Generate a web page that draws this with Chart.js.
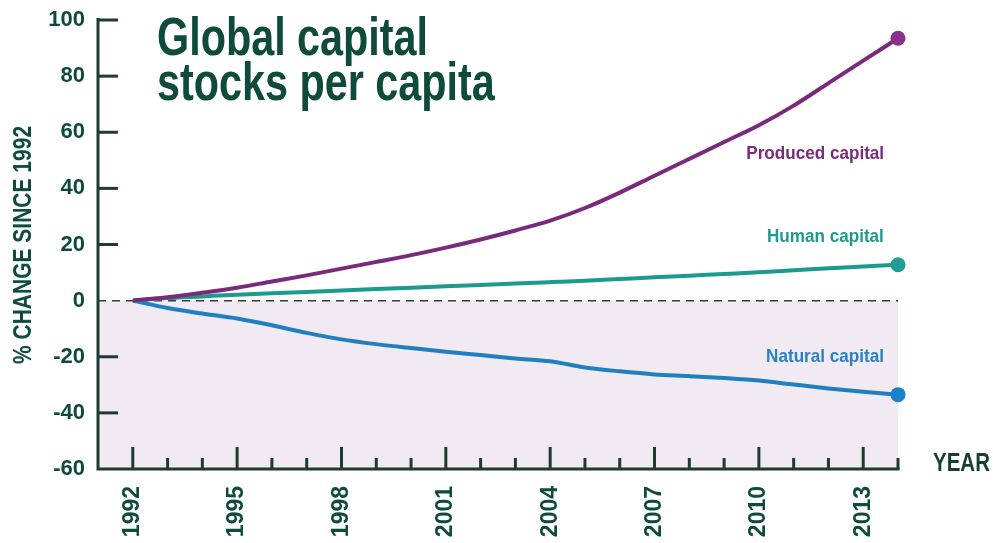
<!DOCTYPE html>
<html>
<head>
<meta charset="utf-8">
<script src="https://cdn.jsdelivr.net/npm/chart.js@4.4.1/dist/chart.umd.min.js"></script>
<style>
  html,body{margin:0;padding:0;background:#fff;}
  #wrap{position:relative;width:993px;height:543px;overflow:hidden;}
  canvas{position:absolute;left:0;top:0;}
  .lbl{position:absolute;font-family:"Liberation Sans",Arial,sans-serif;font-weight:bold;white-space:nowrap;}
  #title{left:157px;top:14px;font-size:53px;line-height:45px;color:#0e4b3d;transform:scaleX(0.78);transform-origin:0 0;}
  .ann{font-size:19px;line-height:20px;right:109px;transform:scaleX(0.9);transform-origin:100% 50%;}
  #year{left:933px;top:449px;font-size:25px;line-height:26px;color:#163f34;transform:scaleX(0.82);transform-origin:0 50%;}
  #ytitle{left:22px;top:245px;font-size:25px;line-height:26px;color:#0e4b3d;transform:translate(-50%,-50%) rotate(-90deg) scaleX(0.84);}
</style>
</head>
<body>
<div id="wrap">
  <canvas id="chart" width="993" height="543"></canvas>
  <div id="title" class="lbl">Global capital<br>stocks per capita</div>
  <div class="lbl ann" style="top:143px;color:#7b2a7b;">Produced capital</div>
  <div class="lbl ann" style="top:226px;color:#1f9a90;">Human capital</div>
  <div class="lbl ann" style="top:346px;color:#2a80c0;">Natural capital</div>
  <div id="year" class="lbl">YEAR</div>
  <div id="ytitle" class="lbl">% CHANGE SINCE 1992</div>
</div>
<script>
const years = [1992,1993,1994,1995,1996,1997,1998,1999,2000,2001,2002,2003,2004,2005,2006,2007,2008,2009,2010,2011,2012,2013,2014];
const produced = [0,1.2,2.8,4.6,6.8,9.0,11.4,13.8,16.2,18.9,21.8,25.0,28.5,33.0,38.5,44.5,50.5,56.5,62.5,69.5,77.5,85.5,93.5];
const human = [0,0.9,1.5,2.1,2.6,3.1,3.6,4.1,4.6,5.1,5.6,6.1,6.6,7.1,7.7,8.3,8.9,9.5,10.1,10.8,11.5,12.2,12.8];
const natural = [0,-2.6,-4.6,-6.4,-8.8,-11.5,-13.8,-15.5,-16.9,-18.2,-19.4,-20.6,-21.6,-23.8,-25.2,-26.3,-26.9,-27.6,-28.5,-29.9,-31.3,-32.5,-33.5];
const xTickLabels = [1992,1995,1998,2001,2004,2007,2010,2013];
const yTickLabels = [100,80,60,40,20,0,-20,-40,-60];
const xMin = 1991, xMax = 2014;

const AXIS = '#1d3b32';
const TXT = '#0e4b3d';
const FONT = '"Liberation Sans",Arial,sans-serif';

function pts(arr){ return years.map((yr,i)=>({x:yr,y:arr[i]})); }
function lastOnly(r){ return ctx => ctx.dataIndex === years.length-1 ? r : 0; }

const decor = {
  id:'decor',
  beforeDatasetsDraw(chart){
    const {ctx, chartArea:a, scales:{x,y}} = chart;
    const y0 = y.getPixelForValue(0);
    const yb = y.getPixelForValue(-60);
    ctx.save();
    ctx.fillStyle = '#f2eaf2';
    ctx.fillRect(a.left, y0, a.right - a.left, yb - y0);
    ctx.strokeStyle = '#3a3a3a';
    ctx.lineWidth = 1.5;
    ctx.setLineDash([8,6]);
    ctx.beginPath(); ctx.moveTo(a.left, y0); ctx.lineTo(a.right, y0); ctx.stroke();
    ctx.setLineDash([]);
    ctx.strokeStyle = AXIS; ctx.lineWidth = 3;
    yTickLabels.forEach(v=>{
      if (v === 0 || v === -60) return;
      const py = y.getPixelForValue(v);
      ctx.beginPath(); ctx.moveTo(a.left, py); ctx.lineTo(a.left+20, py); ctx.stroke();
    });
    years.forEach(yr=>{
      const px = x.getPixelForValue(yr);
      const major = xTickLabels.includes(yr);
      ctx.beginPath(); ctx.moveTo(px, yb); ctx.lineTo(px, yb - (major ? 22 : 11)); ctx.stroke();
    });
    ctx.beginPath();
    ctx.moveTo(a.left, y.getPixelForValue(100)-2);
    ctx.lineTo(a.left, yb);
    ctx.lineTo(a.right+1.5, yb);
    ctx.stroke();
    ctx.restore();
  }
};

new Chart(document.getElementById('chart'), {
  type:'line',
  data:{
    datasets:[
      {label:'Produced capital', data:pts(produced), borderColor:'#7a2a7c', backgroundColor:'#8a2f8a', borderWidth:4, pointRadius:lastOnly(7.5), pointBorderWidth:0, cubicInterpolationMode:'monotone', clip:false},
      {label:'Human capital', data:pts(human), borderColor:'#1b9a8e', backgroundColor:'#1f9e93', borderWidth:4, pointRadius:lastOnly(7.5), pointBorderWidth:0, cubicInterpolationMode:'monotone', clip:false},
      {label:'Natural capital', data:pts(natural), borderColor:'#1f7fbf', backgroundColor:'#1a82c8', borderWidth:4, pointRadius:lastOnly(7.5), pointBorderWidth:0, cubicInterpolationMode:'monotone', clip:false}
    ]
  },
  options:{
    responsive:false,
    animation:false,
    devicePixelRatio:1,
    layout:{padding:{top:20,right:95,left:0,bottom:0}},
    plugins:{legend:{display:false}, tooltip:{enabled:false}},
    scales:{
      x:{
        type:'linear', min:xMin, max:xMax,
        afterFit(s){ s.height = 74; s.paddingLeft = 0; s.paddingRight = 0; },
        afterBuildTicks(s){ s.ticks = xTickLabels.map(v=>({value:v})); },
        grid:{display:false, drawTicks:false},
        border:{display:false},
        ticks:{autoSkip:false, minRotation:90, maxRotation:90, padding:17, color:TXT,
          font:{family:FONT, size:23, weight:'bold'}, callback:v=>String(v)}
      },
      y:{
        type:'linear', min:-60, max:100,
        afterFit(s){ s.width = 98; s.paddingTop = 0; s.paddingBottom = 0; },
        afterBuildTicks(s){ s.ticks = yTickLabels.map(v=>({value:v})); },
        grid:{display:false, drawTicks:false},
        border:{display:false},
        ticks:{padding:13, color:TXT, font:{family:FONT, size:22, weight:'bold'}, callback:v=>String(v)}
      }
    }
  },
  plugins:[decor]
});
</script>
</body>
</html>
